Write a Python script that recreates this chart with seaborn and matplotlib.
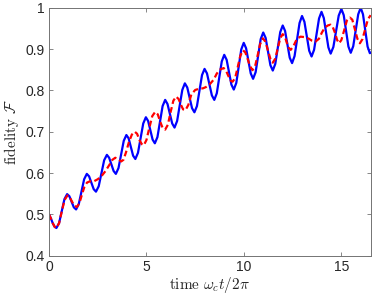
import numpy as np
import pandas as pd
import matplotlib
matplotlib.use("Agg")
import matplotlib.pyplot as plt
import seaborn as sns

# Blue (solid) fidelity curve
blue_t = [0.00, 0.10, 0.19, 0.29, 0.38,
          0.518, 0.655, 0.793, 0.93,
          1.045, 1.16, 1.275, 1.39,
          1.528, 1.665, 1.803, 1.94,
          2.058, 2.175, 2.293, 2.41,
          2.55, 2.69, 2.83, 2.97,
          3.085, 3.20, 3.315, 3.43,
          3.565, 3.70, 3.835, 3.97,
          4.085, 4.20, 4.315, 4.43,
          4.565, 4.70, 4.835, 4.97,
          5.085, 5.20, 5.315, 5.43,
          5.563, 5.695, 5.828, 5.96,
          6.08, 6.20, 6.32, 6.44,
          6.573, 6.705, 6.838, 6.97,
          7.093, 7.215, 7.338, 7.46,
          7.59, 7.72, 7.85, 7.98,
          8.105, 8.23, 8.355, 8.48,
          8.608, 8.735, 8.863, 8.99,
          9.113, 9.235, 9.358, 9.48,
          9.608, 9.735, 9.863, 9.99,
          10.11, 10.23, 10.35, 10.47,
          10.60, 10.73, 10.86, 10.99,
          11.113, 11.235, 11.358, 11.48,
          11.608, 11.735, 11.863, 11.99,
          12.11, 12.23, 12.35, 12.47,
          12.598, 12.725, 12.853, 12.98,
          13.103, 13.225, 13.348, 13.47,
          13.598, 13.725, 13.853, 13.98,
          14.098, 14.215, 14.333, 14.45,
          14.588, 14.725, 14.863, 15.00,
          15.12, 15.24, 15.36, 15.48,
          15.608, 15.735, 15.863, 15.99,
          16.108, 16.225, 16.343, 16.46, 16.50]
blue_f = [0.500, 0.490, 0.479, 0.470, 0.467,
          0.479, 0.508, 0.537, 0.549,
          0.544, 0.5305, 0.517, 0.512,
          0.525, 0.555, 0.585, 0.598,
          0.592, 0.5765, 0.561, 0.555,
          0.568, 0.5995, 0.631, 0.644,
          0.637, 0.621, 0.605, 0.598,
          0.612, 0.645, 0.678, 0.692,
          0.684, 0.663, 0.642, 0.634,
          0.649, 0.6845, 0.720, 0.735,
          0.726, 0.7035, 0.681, 0.672,
          0.687, 0.7245, 0.762, 0.777,
          0.767, 0.7435, 0.720, 0.710,
          0.726, 0.7635, 0.801, 0.817,
          0.807, 0.782, 0.757, 0.747,
          0.762, 0.7995, 0.837, 0.852,
          0.841, 0.8145, 0.788, 0.777,
          0.793, 0.8315, 0.870, 0.886,
          0.874, 0.844, 0.814, 0.802,
          0.818, 0.8585, 0.899, 0.915,
          0.902, 0.8715, 0.841, 0.828,
          0.844, 0.884, 0.924, 0.940,
          0.927, 0.894, 0.861, 0.848,
          0.864, 0.9025, 0.941, 0.957,
          0.944, 0.9115, 0.879, 0.866,
          0.883, 0.923, 0.963, 0.980,
          0.966, 0.931, 0.896, 0.882,
          0.898, 0.936, 0.974, 0.990,
          0.975, 0.9395, 0.904, 0.889,
          0.905, 0.943, 0.981, 0.997,
          0.982, 0.944, 0.906, 0.891,
          0.907, 0.9455, 0.984, 1.000,
          0.984, 0.945, 0.906, 0.890, 0.891]

# Red (dashed) fidelity curve
red_t = [0.00, 0.10, 0.19, 0.29, 0.38, 0.52, 0.66, 0.80, 0.95,
         1.07, 1.19, 1.31, 1.43, 1.56, 1.69, 1.82, 1.95,
         2.10, 2.30, 2.50, 2.70, 2.90, 3.10, 3.25, 3.40, 3.55, 3.70, 3.82, 3.95,
         4.10, 4.25, 4.40, 4.52, 4.64, 4.76, 4.86,
         5.00, 5.15, 5.30, 5.45, 5.58, 5.70, 5.83, 5.96,
         6.10, 6.24, 6.38, 6.52, 6.65, 6.77, 6.88, 7.00,
         7.15, 7.30, 7.50, 7.70, 7.90, 8.05, 8.25, 8.45, 8.60, 8.75, 8.96,
         9.08, 9.20, 9.31, 9.42, 9.55, 9.68, 9.81, 9.95,
         10.07, 10.19, 10.31, 10.44, 10.57, 10.70, 10.83, 10.97,
         11.10, 11.23, 11.36, 11.48, 11.61, 11.74, 11.87, 11.99,
         12.10, 12.20, 12.30, 12.40, 12.55, 12.72, 12.90,
         13.10, 13.33, 13.50, 13.67, 13.85, 14.00, 14.15, 14.30, 14.44,
         14.56, 14.68, 14.78, 14.88, 15.00, 15.14, 15.28, 15.44,
         15.56, 15.68, 15.82, 15.95, 16.08, 16.22, 16.36, 16.50]
red_f = [0.500, 0.490, 0.479, 0.470, 0.467, 0.479, 0.508, 0.535, 0.546,
         0.541, 0.530, 0.521, 0.518, 0.527, 0.548, 0.567, 0.577,
         0.580, 0.580, 0.585, 0.593, 0.605, 0.620, 0.632, 0.637, 0.634, 0.628, 0.632, 0.650,
         0.675, 0.693, 0.700, 0.695, 0.680, 0.670, 0.667,
         0.680, 0.710, 0.738, 0.748, 0.742, 0.725, 0.709, 0.705,
         0.717, 0.748, 0.775, 0.785, 0.779, 0.765, 0.754, 0.752,
         0.765, 0.790, 0.801, 0.804, 0.805, 0.808, 0.815, 0.826, 0.840, 0.850, 0.854,
         0.848, 0.835, 0.824, 0.821, 0.830, 0.856, 0.883, 0.897,
         0.892, 0.876, 0.859, 0.849, 0.858, 0.884, 0.912, 0.926,
         0.918, 0.897, 0.876, 0.867, 0.877, 0.903, 0.927, 0.936,
         0.930, 0.915, 0.903, 0.898, 0.908, 0.925, 0.930,
         0.929, 0.925, 0.920, 0.918, 0.925, 0.940, 0.952, 0.957, 0.959,
         0.953, 0.938, 0.922, 0.914, 0.922, 0.945, 0.969, 0.976,
         0.971, 0.950, 0.925, 0.914, 0.924, 0.948, 0.972, 0.982]

x_ticks = [0, 5, 10, 15]
y_ticks = [0.4, 0.5, 0.6, 0.7, 0.8, 0.9, 1.0]
y_ticklabels = ["0.4", "0.5", "0.6", "0.7", "0.8", "0.9", "1"]

sns.set_style("ticks")
plt.rcParams['font.family'] = ['Liberation Sans', 'DejaVu Sans']
plt.rcParams['mathtext.fontset'] = 'cm'

blue_df = pd.DataFrame({"t": blue_t, "F": blue_f})
red_df = pd.DataFrame({"t": red_t, "F": red_f})

fig = plt.figure(figsize=(3.74, 2.97), dpi=100)
ax = fig.add_axes([0.131, 0.139, 0.860, 0.835])

sns.lineplot(data=blue_df, x="t", y="F", ax=ax, color=(0, 0, 1), linewidth=1.6,
             sort=False, estimator=None)
sns.lineplot(data=red_df, x="t", y="F", ax=ax, color=(1, 0, 0), linewidth=1.6,
             sort=False, estimator=None)
ax.lines[-1].set_dashes([2.6, 1.5])
ax.lines[-1].set_dash_capstyle('butt')

ax.set_xlim(0, 16.5)
ax.set_ylim(0.4, 1.0)
ax.set_xticks(x_ticks)
ax.set_xticklabels([str(v) for v in x_ticks])
ax.set_yticks(y_ticks)
ax.set_yticklabels(y_ticklabels)

edge = (0.45, 0.45, 0.45)
for s in ax.spines.values():
    s.set_visible(True)
    s.set_color(edge)
    s.set_linewidth(0.7)
ax.tick_params(direction='in', length=3, width=0.6, color=edge,
               top=True, right=True, labelsize=10, labelcolor=(0.15, 0.15, 0.15), pad=3)

ax.set_xlabel(r'$\mathrm{time}\ \omega_c t/2\pi$', fontsize=11, color=(0.15, 0.15, 0.15), labelpad=1)
ax.set_ylabel(r'$\mathrm{fidelity}\ \mathcal{F}$', fontsize=11, color=(0.15, 0.15, 0.15), labelpad=3)

fig.savefig("out.png", dpi=100, facecolor='white')
